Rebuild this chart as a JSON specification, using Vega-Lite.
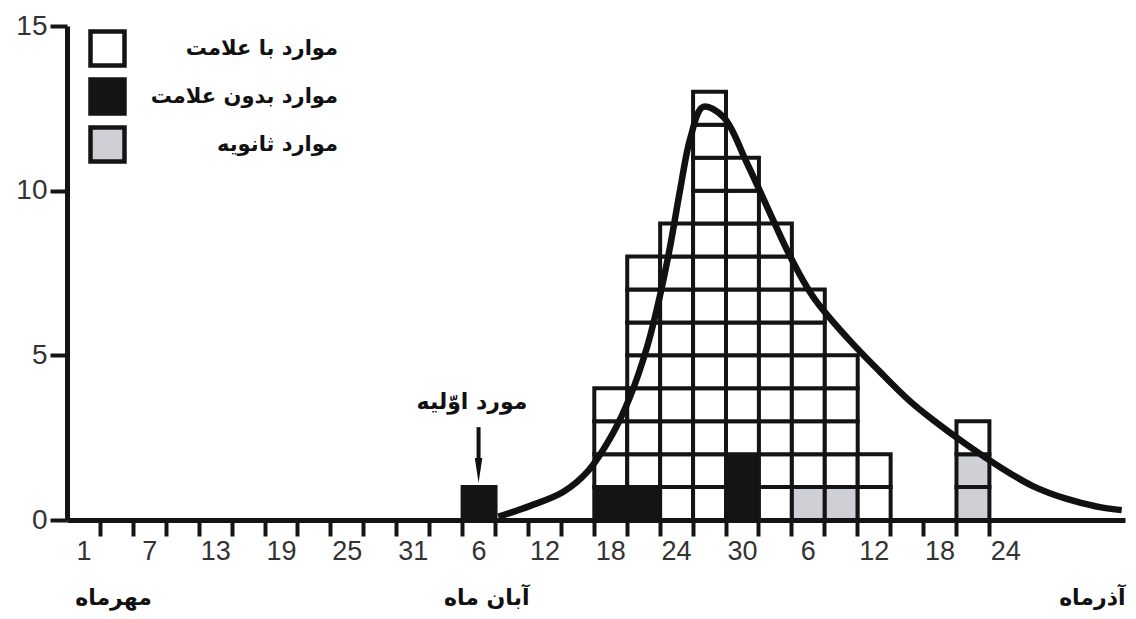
{
  "$schema": "https://vega.github.io/schema/vega-lite/v6.json",
  "width": 1058,
  "height": 494,
  "autosize": {"type": "none"},
  "padding": {"left": 67, "top": 26, "right": 11, "bottom": 99},
  "background": "white",
  "config": {"view": {"stroke": null}, "axis": {"grid": false}},
  "datasets": {
    "cases": [
      {"id": 1, "day": 37, "type": "موارد بدون علامت", "cases": 1},
      {"id": 2, "day": 49, "type": "موارد بدون علامت", "cases": 1},
      {"id": 3, "day": 49, "type": "موارد با علامت", "cases": 1},
      {"id": 4, "day": 49, "type": "موارد با علامت", "cases": 1},
      {"id": 5, "day": 49, "type": "موارد با علامت", "cases": 1},
      {"id": 6, "day": 52, "type": "موارد بدون علامت", "cases": 1},
      {"id": 7, "day": 52, "type": "موارد با علامت", "cases": 1},
      {"id": 8, "day": 52, "type": "موارد با علامت", "cases": 1},
      {"id": 9, "day": 52, "type": "موارد با علامت", "cases": 1},
      {"id": 10, "day": 52, "type": "موارد با علامت", "cases": 1},
      {"id": 11, "day": 52, "type": "موارد با علامت", "cases": 1},
      {"id": 12, "day": 52, "type": "موارد با علامت", "cases": 1},
      {"id": 13, "day": 52, "type": "موارد با علامت", "cases": 1},
      {"id": 14, "day": 55, "type": "موارد با علامت", "cases": 1},
      {"id": 15, "day": 55, "type": "موارد با علامت", "cases": 1},
      {"id": 16, "day": 55, "type": "موارد با علامت", "cases": 1},
      {"id": 17, "day": 55, "type": "موارد با علامت", "cases": 1},
      {"id": 18, "day": 55, "type": "موارد با علامت", "cases": 1},
      {"id": 19, "day": 55, "type": "موارد با علامت", "cases": 1},
      {"id": 20, "day": 55, "type": "موارد با علامت", "cases": 1},
      {"id": 21, "day": 55, "type": "موارد با علامت", "cases": 1},
      {"id": 22, "day": 55, "type": "موارد با علامت", "cases": 1},
      {"id": 23, "day": 58, "type": "موارد با علامت", "cases": 1},
      {"id": 24, "day": 58, "type": "موارد با علامت", "cases": 1},
      {"id": 25, "day": 58, "type": "موارد با علامت", "cases": 1},
      {"id": 26, "day": 58, "type": "موارد با علامت", "cases": 1},
      {"id": 27, "day": 58, "type": "موارد با علامت", "cases": 1},
      {"id": 28, "day": 58, "type": "موارد با علامت", "cases": 1},
      {"id": 29, "day": 58, "type": "موارد با علامت", "cases": 1},
      {"id": 30, "day": 58, "type": "موارد با علامت", "cases": 1},
      {"id": 31, "day": 58, "type": "موارد با علامت", "cases": 1},
      {"id": 32, "day": 58, "type": "موارد با علامت", "cases": 1},
      {"id": 33, "day": 58, "type": "موارد با علامت", "cases": 1},
      {"id": 34, "day": 58, "type": "موارد با علامت", "cases": 1},
      {"id": 35, "day": 58, "type": "موارد با علامت", "cases": 1},
      {"id": 36, "day": 61, "type": "موارد بدون علامت", "cases": 1},
      {"id": 37, "day": 61, "type": "موارد بدون علامت", "cases": 1},
      {"id": 38, "day": 61, "type": "موارد با علامت", "cases": 1},
      {"id": 39, "day": 61, "type": "موارد با علامت", "cases": 1},
      {"id": 40, "day": 61, "type": "موارد با علامت", "cases": 1},
      {"id": 41, "day": 61, "type": "موارد با علامت", "cases": 1},
      {"id": 42, "day": 61, "type": "موارد با علامت", "cases": 1},
      {"id": 43, "day": 61, "type": "موارد با علامت", "cases": 1},
      {"id": 44, "day": 61, "type": "موارد با علامت", "cases": 1},
      {"id": 45, "day": 61, "type": "موارد با علامت", "cases": 1},
      {"id": 46, "day": 61, "type": "موارد با علامت", "cases": 1},
      {"id": 47, "day": 64, "type": "موارد با علامت", "cases": 1},
      {"id": 48, "day": 64, "type": "موارد با علامت", "cases": 1},
      {"id": 49, "day": 64, "type": "موارد با علامت", "cases": 1},
      {"id": 50, "day": 64, "type": "موارد با علامت", "cases": 1},
      {"id": 51, "day": 64, "type": "موارد با علامت", "cases": 1},
      {"id": 52, "day": 64, "type": "موارد با علامت", "cases": 1},
      {"id": 53, "day": 64, "type": "موارد با علامت", "cases": 1},
      {"id": 54, "day": 64, "type": "موارد با علامت", "cases": 1},
      {"id": 55, "day": 64, "type": "موارد با علامت", "cases": 1},
      {"id": 56, "day": 67, "type": "موارد ثانویه", "cases": 1},
      {"id": 57, "day": 67, "type": "موارد با علامت", "cases": 1},
      {"id": 58, "day": 67, "type": "موارد با علامت", "cases": 1},
      {"id": 59, "day": 67, "type": "موارد با علامت", "cases": 1},
      {"id": 60, "day": 67, "type": "موارد با علامت", "cases": 1},
      {"id": 61, "day": 67, "type": "موارد با علامت", "cases": 1},
      {"id": 62, "day": 67, "type": "موارد با علامت", "cases": 1},
      {"id": 63, "day": 70, "type": "موارد ثانویه", "cases": 1},
      {"id": 64, "day": 70, "type": "موارد با علامت", "cases": 1},
      {"id": 65, "day": 70, "type": "موارد با علامت", "cases": 1},
      {"id": 66, "day": 70, "type": "موارد با علامت", "cases": 1},
      {"id": 67, "day": 70, "type": "موارد با علامت", "cases": 1},
      {"id": 68, "day": 73, "type": "موارد با علامت", "cases": 1},
      {"id": 69, "day": 73, "type": "موارد با علامت", "cases": 1},
      {"id": 70, "day": 82, "type": "موارد ثانویه", "cases": 1},
      {"id": 71, "day": 82, "type": "موارد ثانویه", "cases": 1},
      {"id": 72, "day": 82, "type": "موارد با علامت", "cases": 1}
    ],
    "curve": [
      {"day": 40.3, "count": 0.1},
      {"day": 43.2, "count": 0.43},
      {"day": 46.2, "count": 0.85},
      {"day": 48.4, "count": 1.46},
      {"day": 50.75, "count": 2.64},
      {"day": 52.3, "count": 3.74},
      {"day": 53.85, "count": 5.25},
      {"day": 55.0, "count": 6.77},
      {"day": 55.95, "count": 8.3},
      {"day": 56.85, "count": 10.0},
      {"day": 57.8, "count": 11.6},
      {"day": 58.95, "count": 12.54},
      {"day": 60.8, "count": 12.24},
      {"day": 62.95, "count": 10.84},
      {"day": 64.8, "count": 9.5},
      {"day": 66.9, "count": 8.0},
      {"day": 69.0, "count": 6.77},
      {"day": 72.1, "count": 5.53},
      {"day": 75.1, "count": 4.49},
      {"day": 77.8, "count": 3.61},
      {"day": 79.9, "count": 3.04},
      {"day": 83.0, "count": 2.28},
      {"day": 86.0, "count": 1.61},
      {"day": 89.0, "count": 1.03},
      {"day": 92.1, "count": 0.64},
      {"day": 95.1, "count": 0.39},
      {"day": 97.1, "count": 0.3}
    ],
    "note": [{"label": "مورد اوّلیه"}]
  },
  "layer": [
    {
      "data": {"name": "cases"},
      "mark": {"type": "bar", "stroke": "#141414", "strokeWidth": 4, "binSpacing": 0, "strokeJoin": "miter"},
      "encoding": {
        "x": {
          "field": "day", "type": "quantitative", "title": null,
          "bin": {"step": 3, "anchor": 1, "extent": [1, 100], "nice": false},
          "scale": {"domain": [1, 97.4], "nice": false, "zero": false},
          "axis": {
            "title": null,
            "tickCount": 200,
            "values": [2.5, 4, 5.2, 7, 8.5, 10, 13, 14.5, 16, 19, 20.5, 22, 25, 26.5, 28, 31, 32.5, 34, 37, 38.5, 39.2, 40, 43, 44.5, 46, 49, 50.5, 52, 55, 56.5, 58, 61, 62.5, 64, 67, 68.5, 70, 73, 74.5, 76, 79, 80.5, 82, 85, 86.5, 97.4],
            "labelExpr": "datum.value == 5.2 ? ['', 'مهرماه'] : datum.value == 39.2 ? ['', 'آبان ماه'] : datum.value == 97.4 ? ['', 'آذرماه'] : datum.value % 1 == 0 ? '' : (datum.value - 1.5 <= 31 ? '' + (datum.value - 1.5) : datum.value - 1.5 <= 61 ? '' + (datum.value - 32.5) : '' + (datum.value - 62.5))",
            "tickOpacity": {"condition": {"test": "datum.value % 1 == 0", "value": 1}, "value": 0},
            "labelFont": {"condition": {"test": "datum.value == 5.2 || datum.value == 39.2 || datum.value == 97.4", "value": "DejaVu Sans"}, "value": "Liberation Sans"},
            "labelFontWeight": {"condition": {"test": "datum.value == 5.2 || datum.value == 39.2 || datum.value == 97.4", "value": "bold"}, "value": "normal"},
            "labelFontSize": {"condition": {"test": "datum.value == 5.2 || datum.value == 39.2 || datum.value == 97.4", "value": 22}, "value": 27},
            "labelColor": {"condition": {"test": "datum.value == 5.2 || datum.value == 39.2 || datum.value == 97.4", "value": "#111111"}, "value": "#333333"},
            "labelAlign": {"condition": {"test": "datum.value == 97.4", "value": "right"}, "value": "center"},
            "labelBaseline": "top",
            "labelLineHeight": 49,
            "labelPadding": 2,
            "labelFlush": false,
            "labelOverlap": false,
            "labelBound": false,
            "tickSize": 16,
            "tickWidth": 4,
            "tickColor": "#141414",
            "domainColor": "#141414",
            "domainWidth": 5
          }
        },
        "y": {
          "field": "cases", "type": "quantitative", "stack": "zero", "title": null,
          "scale": {"domain": [0, 15], "nice": false},
          "axis": {
            "title": null,
            "values": [0, 5, 10, 15],
            "format": "d",
            "tickSize": 17,
            "tickWidth": 4,
            "tickColor": "#141414",
            "domainColor": "#141414",
            "domainWidth": 5,
            "labelFont": "Liberation Sans",
            "labelFontSize": 28,
            "labelColor": "#333333",
            "labelPadding": 3
          }
        },
        "color": {
          "field": "type", "type": "nominal",
          "scale": {"domain": ["موارد با علامت", "موارد بدون علامت", "موارد ثانویه"], "range": ["#ffffff", "#141414", "#cfd0d5"]},
          "legend": {
            "title": null,
            "orient": "none",
            "legendX": 21,
            "legendY": 3,
            "direction": "vertical",
            "symbolType": "square",
            "symbolSize": 1156,
            "symbolStrokeColor": "#141414",
            "symbolStrokeWidth": 4.5,
            "symbolOpacity": 1,
            "labelFont": "DejaVu Sans",
            "labelFontWeight": "bold",
            "labelFontSize": 21,
            "labelColor": "#111111",
            "labelAlign": "right",
            "labelOffset": 211,
            "labelLimit": 400,
            "rowPadding": -5,
            "padding": 0
          }
        },
        "order": {"field": "id", "type": "quantitative"}
      }
    },
    {
      "data": {"name": "curve"},
      "mark": {"type": "line", "interpolate": "catmull-rom", "stroke": "#111111", "strokeWidth": 6.5},
      "encoding": {
        "x": {"field": "day", "type": "quantitative", "title": null, "scale": {"domain": [1, 97.4], "nice": false, "zero": false}},
        "y": {"field": "count", "type": "quantitative", "title": null, "scale": {"domain": [0, 15], "nice": false}}
      }
    },
    {
      "data": {"name": "note"},
      "mark": {"type": "text", "font": "DejaVu Sans", "fontWeight": "bold", "fontSize": 22, "color": "#111111", "align": "center", "baseline": "middle"},
      "encoding": {
        "text": {"field": "label"},
        "x": {"datum": 37.9},
        "y": {"datum": 3.58}
      }
    },
    {
      "data": {"name": "note"},
      "mark": {"type": "rule", "strokeWidth": 4, "color": "#111111"},
      "encoding": {
        "x": {"datum": 38.5},
        "y": {"datum": 2.82},
        "y2": {"datum": 1.6}
      }
    },
    {
      "data": {"name": "note"},
      "mark": {"type": "point", "shape": "M-0.3,-1L0.3,-1L0,1Z", "filled": true, "size": 625, "color": "#111111", "opacity": 1},
      "encoding": {
        "x": {"datum": 38.5},
        "y": {"datum": 1.5}
      }
    }
  ]
}
